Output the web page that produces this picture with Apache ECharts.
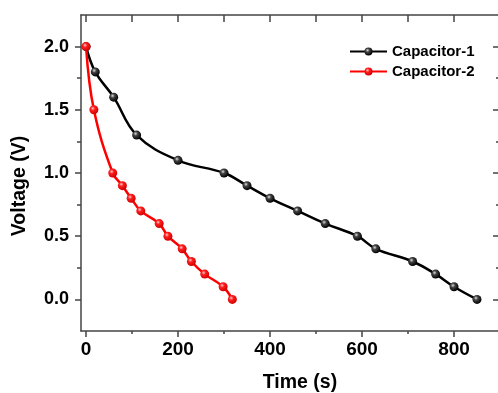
<!DOCTYPE html>
<html><head><meta charset="utf-8">
<script src="https://cdn.jsdelivr.net/npm/echarts@6/dist/echarts.min.js"></script>
<style>html,body{margin:0;padding:0;background:#fff}#c{width:498px;height:393px}</style>
</head><body><div id="c"></div>
<script>
const cap1Time = [0, 20, 60, 110, 200, 300, 350, 400, 460, 520, 590, 630, 710, 760, 800, 850];
const cap1Volt = [2.0, 1.8, 1.6, 1.3, 1.1, 1.0, 0.9, 0.8, 0.7, 0.6, 0.5, 0.4, 0.3, 0.2, 0.1, 0.0];
const cap2Time = [0, 17, 58, 79, 98, 119, 159, 178, 209, 229, 258, 298, 318];
const cap2Volt = [2.0, 1.5, 1.0, 0.9, 0.8, 0.7, 0.6, 0.5, 0.4, 0.3, 0.2, 0.1, 0.0];
const xMajorTicks = [0, 200, 400, 600, 800];
const xMinorTicks = [100, 300, 500, 700];
const xTopTicks = [0, 100, 200, 300, 400, 500, 600, 700, 800];
const yMajorTicks = [0, 0.5, 1.0, 1.5, 2.0];
const yMinorTicks = [0.25, 0.75, 1.25, 1.75];
const seriesNames = ['Capacitor-1', 'Capacitor-2'];

const FONT = "'Liberation Sans', Arial, sans-serif";
const AX = { color: '#444', width: 1.5 };
const XMIN = -11, XMAX = 900, YMIN = -0.25, YMAX = 2.25;

function grad(c0, c1, c2) {
  return new echarts.graphic.RadialGradient(0.38, 0.35, 0.65, [
    { offset: 0, color: c0 }, { offset: 0.35, color: c1 }, { offset: 1, color: c2 }
  ]);
}
function tickAxis(extra) {
  return Object.assign({
    type: 'value', splitLine: { show: false }, axisLabel: { show: false }
  }, extra);
}

const chart = echarts.init(document.getElementById('c'), null, { renderer: 'canvas' });
chart.setOption({
  animation: false,
  backgroundColor: '#fff',
  grid: { left: 81, right: -2, top: 15, bottom: 62, containLabel: false, outerBoundsMode: 'none' },
  legend: {
    data: seriesNames, orient: 'vertical', left: 349, top: 44, padding: 0,
    itemWidth: 37, itemHeight: 10, itemGap: 5,
    textStyle: { fontFamily: FONT, fontWeight: 'bold', fontSize: 15, color: '#000', lineHeight: 15 }
  },
  xAxis: [
    tickAxis({
      position: 'bottom', min: XMIN, max: XMAX,
      axisLine: { show: true, onZero: false, lineStyle: AX },
      axisTick: { show: true, customValues: xMajorTicks, length: 6, lineStyle: AX },
      axisLabel: { show: true, customValues: xMajorTicks, margin: 9, fontFamily: FONT, fontWeight: 'bold', fontSize: 19, color: '#000' },
      name: 'Time (s)', nameLocation: 'middle', nameGap: 42,
      nameTextStyle: { fontFamily: FONT, fontWeight: 'bold', fontSize: 19.5, color: '#000', padding: [0, 0, 0, 19] }
    }),
    tickAxis({
      position: 'bottom', min: XMIN, max: XMAX,
      axisLine: { show: false, onZero: false },
      axisTick: { show: true, customValues: xMinorTicks, length: 3, lineStyle: AX }
    }),
    tickAxis({
      position: 'top', min: XMIN, max: XMAX,
      axisLine: { show: true, onZero: false, lineStyle: AX },
      axisTick: { show: true, inside: true, customValues: xTopTicks, length: 7, lineStyle: AX }
    })
  ],
  yAxis: [
    tickAxis({
      position: 'left', min: YMIN, max: YMAX,
      axisLine: { show: true, onZero: false, lineStyle: AX },
      axisTick: { show: true, customValues: yMajorTicks, length: 6, lineStyle: AX },
      axisLabel: { show: true, customValues: yMajorTicks, margin: 12, formatter: v => v.toFixed(1), fontFamily: FONT, fontWeight: 'bold', fontSize: 18, color: '#000' },
      name: 'Voltage (V)', nameLocation: 'middle', nameGap: 51,
      nameTextStyle: { fontFamily: FONT, fontWeight: 'bold', fontSize: 19.5, color: '#000', padding: [0, 26, 0, 0] }
    }),
    tickAxis({
      position: 'left', min: YMIN, max: YMAX,
      axisLine: { show: false, onZero: false },
      axisTick: { show: true, customValues: yMinorTicks, length: 4, lineStyle: AX }
    }),
    tickAxis({
      position: 'right', min: YMIN, max: YMAX,
      axisLine: { show: true, onZero: false, lineStyle: AX },
      axisTick: { show: true, inside: true, customValues: yMajorTicks, length: 7, lineStyle: AX }
    }),
    tickAxis({
      position: 'right', min: YMIN, max: YMAX,
      axisLine: { show: false, onZero: false },
      axisTick: { show: true, inside: true, customValues: yMinorTicks, length: 4, lineStyle: AX }
    })
  ],
  series: [
    {
      name: seriesNames[0], type: 'line', xAxisIndex: 0, yAxisIndex: 0,
      data: cap1Time.map((t, i) => [t, cap1Volt[i]]),
      smooth: 0.4, symbol: 'circle', symbolSize: 9, showAllSymbol: true,
      lineStyle: { color: '#000', width: 2.5 },
      itemStyle: { color: grad('#e0e0e0', '#444', '#000'), borderWidth: 0 },
      z: 3
    },
    {
      name: seriesNames[1], type: 'line', xAxisIndex: 0, yAxisIndex: 0,
      data: cap2Time.map((t, i) => [t, cap2Volt[i]]),
      smooth: 0.4, symbol: 'circle', symbolSize: 9, showAllSymbol: true,
      lineStyle: { color: '#ff0000', width: 2.5 },
      itemStyle: { color: grad('#ffd0d0', '#ff2020', '#d00000'), borderWidth: 0 },
      z: 4
    }
  ]
});
</script>
</body></html>
